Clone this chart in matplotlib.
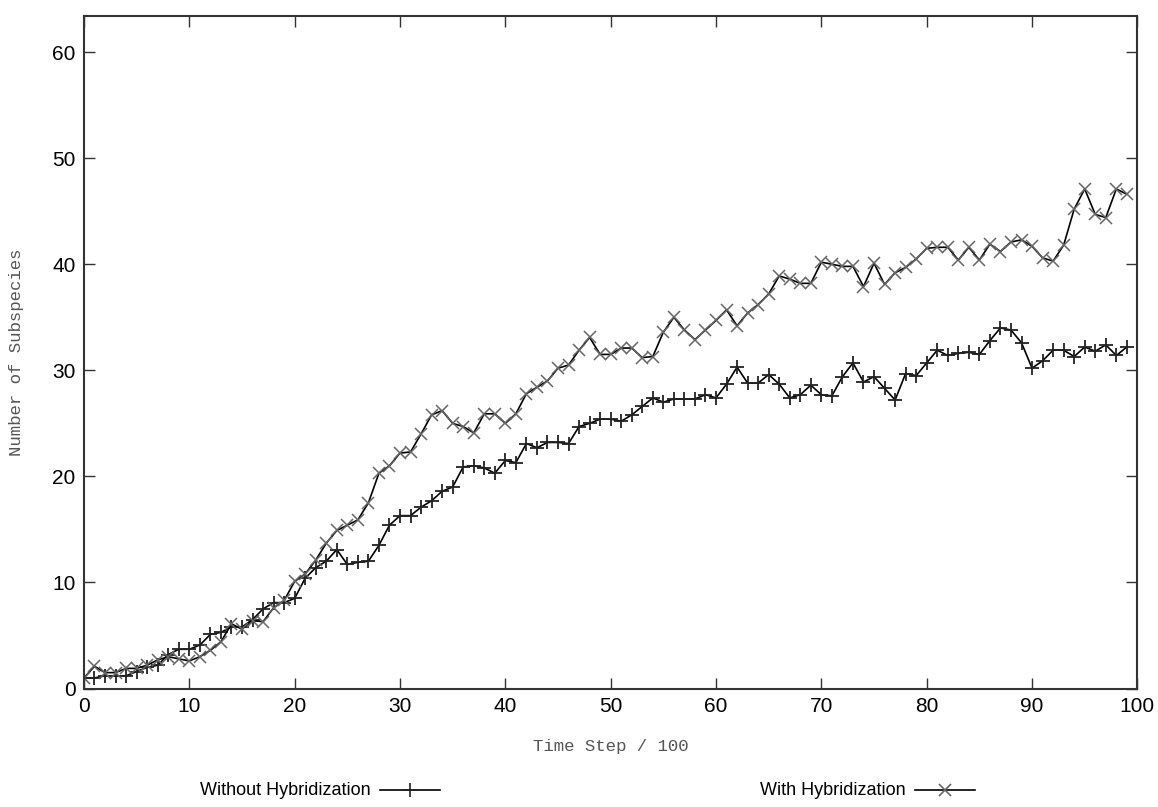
import matplotlib
matplotlib.use("Agg")
import matplotlib.pyplot as plt
from matplotlib.lines import Line2D

# Time step / 100
steps = list(range(100))

# Number of subspecies, without hybridization (+ markers)
without_hyb = [
    1.0, 1.0, 1.2, 1.2, 1.2, 1.6, 2.0, 2.2, 3.2, 3.7,
    3.7, 4.1, 5.1, 5.3, 5.8, 5.8, 6.5, 7.5, 8.1, 8.1,
    8.5, 10.4, 11.4, 12.0, 13.1, 11.7, 11.9, 12.0, 13.5, 15.4,
    16.3, 16.3, 17.1, 17.7, 18.6, 19.0, 20.9, 21.0, 20.8, 20.3,
    21.5, 21.3, 23.1, 22.7, 23.2, 23.2, 23.1, 24.7, 25.0, 25.4,
    25.4, 25.2, 25.8, 26.6, 27.4, 27.0, 27.3, 27.3, 27.3, 27.7,
    27.4, 28.7, 30.3, 28.8, 28.8, 29.6, 28.7, 27.4, 27.7, 28.6,
    27.7, 27.6, 29.4, 30.7, 28.9, 29.4, 28.3, 27.2, 29.7, 29.5,
    30.7, 31.9, 31.4, 31.6, 31.7, 31.5, 32.8, 34.0, 33.8, 32.6,
    30.2, 30.9, 31.9, 31.9, 31.3, 32.2, 31.8, 32.4, 31.4, 32.2,
]

# Number of subspecies, with hybridization (x markers)
with_hyb = [
    1.0, 2.1, 1.5, 1.5, 1.9, 1.9, 2.2, 2.7, 3.0, 2.8,
    2.6, 3.0, 3.6, 4.4, 6.1, 5.6, 6.4, 6.3, 7.6, 8.3,
    10.1, 10.8, 12.1, 13.7, 14.9, 15.4, 15.9, 17.5, 20.3, 21.0,
    22.2, 22.3, 24.0, 25.8, 26.2, 25.0, 24.7, 24.1, 25.9, 25.9,
    25.0, 25.9, 27.8, 28.4, 29.0, 30.2, 30.5, 31.9, 33.1, 31.5,
    31.5, 32.1, 32.1, 31.2, 31.3, 33.6, 35.0, 33.8, 32.9, 33.8,
    34.7, 35.7, 34.2, 35.4, 36.2, 37.2, 38.9, 38.6, 38.2, 38.2,
    40.2, 40.0, 39.8, 39.8, 37.9, 40.1, 38.1, 39.2, 39.7, 40.5,
    41.5, 41.6, 41.6, 40.4, 41.6, 40.4, 41.9, 41.2, 42.1, 42.3,
    41.7, 40.6, 40.3, 41.8, 45.2, 47.1, 44.7, 44.4, 47.1, 46.6,
]

x_ticks = list(range(0, 101, 10))
y_ticks = list(range(0, 61, 10))

fig = plt.figure(figsize=(11.58, 8.07), dpi=100)
ax = fig.add_axes([0.0725, 0.1468, 0.9097, 0.8333])

ax.plot(steps, without_hyb, color="black", lw=1.2, marker="+",
        markersize=10, markeredgewidth=1.3, markeredgecolor="#222222")
ax.plot(steps, with_hyb, color="black", lw=1.2, marker="x",
        markersize=8.5, markeredgewidth=1.1, markeredgecolor="#666666")

ax.set_xlim(0, 100)
ax.set_ylim(0, 63.4)
ax.set_xticks(x_ticks)
ax.set_yticks(y_ticks)
ax.tick_params(direction="in", top=True, right=True, length=8, width=1,
               color="#333333", labelsize=15, pad=6)
for lab in ax.get_xticklabels() + ax.get_yticklabels():
    lab.set_family("Liberation Sans")
for sp in ax.spines.values():
    sp.set_linewidth(1.5)
    sp.set_color("#333333")

ax.set_xlabel("Time Step / 100", family="Liberation Mono", fontsize=12.5,
              color="#555555", labelpad=17)
ax.set_ylabel("Number of Subspecies", family="Liberation Mono", fontsize=12.5,
              color="#555555", labelpad=20)

# key below the plot, gnuplot style: text then sample
keys = [("Without Hybridization", "+", "#222222", 10, 0.320, 0.354),
        ("With Hybridization", "x", "#666666", 8.5, 0.782, 0.816)]
for text, mk, mc, ms, xt, xl in keys:
    fig.text(xt, 0.021, text, ha="right", va="center", fontsize=13,
             family="Liberation Sans")
    fig.add_artist(Line2D([xl - 0.026, xl + 0.026], [0.021, 0.021],
                          transform=fig.transFigure, color="black", lw=1.2))
    fig.add_artist(Line2D([xl], [0.021], transform=fig.transFigure,
                          marker=mk, markersize=ms, markeredgecolor=mc,
                          markeredgewidth=1.2, linestyle="none"))

fig.savefig("out.png", dpi=100)
